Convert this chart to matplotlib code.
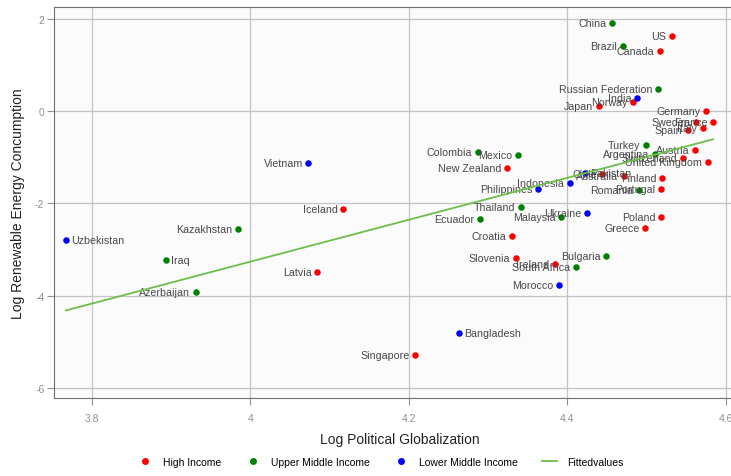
import numpy as np
import matplotlib.pyplot as plt
from matplotlib.lines import Line2D

plt.rcParams['font.family'] = ['Liberation Sans', 'DejaVu Sans']

# country, log political globalization, log renewable energy consumption
high_names = ['US', 'Canada', 'Japan', 'Norway', 'Germany', 'Sweden', 'France', 'Spain', 'Italy',
              'Austria', 'Switzerland', 'United Kingdom', 'Chile', 'Australia', 'Finland', 'Portugal',
              'Poland', 'Greece', 'New Zealand', 'Iceland', 'Latvia', 'Croatia', 'Slovenia',
              'Ireland', 'Singapore']
high_x = [4.532, 4.517, 4.440, 4.483, 4.575, 4.562, 4.584, 4.552, 4.571,
          4.561, 4.546, 4.577, 4.444, 4.471, 4.520, 4.518,
          4.518, 4.498, 4.324, 4.117, 4.084, 4.330, 4.335,
          4.384, 4.208]
high_y = [1.62, 1.30, 0.11, 0.20, 0.00, -0.24, -0.24, -0.41, -0.37,
          -0.84, -1.02, -1.10, -1.36, -1.41, -1.45, -1.69,
          -2.29, -2.53, -1.23, -2.12, -3.48, -2.71, -3.18,
          -3.31, -5.28]

upper_names = ['China', 'Brazil', 'Russian Federation', 'Turkey', 'Argentina', 'Romania',
               'Colombia', 'Mexico', 'Thailand', 'Ecuador', 'Malaysia', 'Bulgaria',
               'South Africa', 'Kazakhstan', 'Iraq', 'Azerbaijan']
upper_x = [4.456, 4.470, 4.514, 4.499, 4.510, 4.490,
           4.287, 4.338, 4.341, 4.290, 4.392, 4.449,
           4.411, 3.984, 3.893, 3.931]
upper_y = [1.91, 1.41, 0.48, -0.73, -0.93, -1.70,
           -0.89, -0.95, -2.08, -2.34, -2.29, -3.14,
           -3.38, -2.55, -3.23, -3.92]

lower_names = ['India', 'Pakistan', 'Indonesia', 'Philippines', 'Ukraine', 'Vietnam',
               'Morocco', 'Bangladesh', 'Uzbekistan']
lower_x = [4.488, 4.422, 4.403, 4.363, 4.425, 4.073,
           4.389, 4.263, 3.767]
lower_y = [0.28, -1.34, -1.56, -1.69, -2.21, -1.13,
           -3.77, -4.81, -2.79]

# labels placed to the right of the marker, all others go on the left
right_labels = ['Uzbekistan', 'Iraq', 'Bangladesh', 'Pakistan']

fig = plt.figure(figsize=(7.31, 4.77), dpi=100)
ax = fig.add_axes([0.0739, 0.1635, 0.945, 0.8197])
ax.set_facecolor('#fbfbfb')

groups = [
    (high_names, high_x, high_y, '#ff0000', 'High Income'),
    (upper_names, upper_x, upper_y, '#008000', 'Upper Middle Income'),
    (lower_names, lower_x, lower_y, '#0000ff', 'Lower Middle Income'),
]
for names, xs, ys, col, lab in groups:
    ax.scatter(xs, ys, s=22, color=col, zorder=3, linewidths=0)
    for n, x, y in zip(names, xs, ys):
        if n in right_labels:
            ax.annotate(n, (x, y), xytext=(4, 0), textcoords='offset points',
                        ha='left', va='center', fontsize=7.7, color='#484848', zorder=4)
        else:
            ax.annotate(n, (x, y), xytext=(-4, 0), textcoords='offset points',
                        ha='right', va='center', fontsize=7.7, color='#484848', zorder=4)

# linear fit over all countries
all_x = np.array(high_x + upper_x + lower_x)
all_y = np.array(high_y + upper_y + lower_y)
b, a = np.polyfit(all_x, all_y, 1)
fx = np.array([all_x.min(), all_x.max()])
ax.plot(fx, a + b * fx, color='#6cbf4a', lw=1.3, zorder=5)

ax.set_xlim(3.752, 4.624)
ax.set_ylim(-6.21, 2.25)
ax.set_xticks([3.8, 4.0, 4.2, 4.4, 4.6])
ax.set_xticklabels(['3.8', '4', '4.2', '4.4', '4.6'])
ax.set_yticks([-6, -4, -2, 0, 2])
ax.set_yticklabels(['-6', '-4', '-2', '0', '2'])
ax.grid(True, color='#c4c4c4', lw=0.9)
ax.set_axisbelow(True)
for sp in ax.spines.values():
    sp.set_color('#707070')
    sp.set_linewidth(0.8)
ax.tick_params(colors='#909090', labelsize=7.5, length=5, width=0.8)
ax.tick_params(axis='x', pad=6)
ax.tick_params(axis='y', pad=2)

ax.set_xlabel('Log Political Globalization', fontsize=10, color='#222222', labelpad=6)
ax.set_ylabel('Log Renewable Energy Concumption', fontsize=10, color='#222222', labelpad=7)

handles = [
    Line2D([], [], ls='', marker='o', ms=5, color='#ff0000', mec='none'),
    Line2D([], [], ls='', marker='o', ms=5, color='#008000', mec='none'),
    Line2D([], [], ls='', marker='o', ms=5, color='#0000ff', mec='none'),
    Line2D([], [], color='#6cbf4a', lw=1.3),
]
fig.legend(handles, ['High Income', 'Upper Middle Income', 'Lower Middle Income', 'Fittedvalues'],
           loc='lower center', bbox_to_anchor=(0.521, 0.0), ncol=4, frameon=False,
           fontsize=7.5, handlelength=1.4, columnspacing=2.35, handletextpad=1.0)

fig.savefig('out.png', dpi=100)
